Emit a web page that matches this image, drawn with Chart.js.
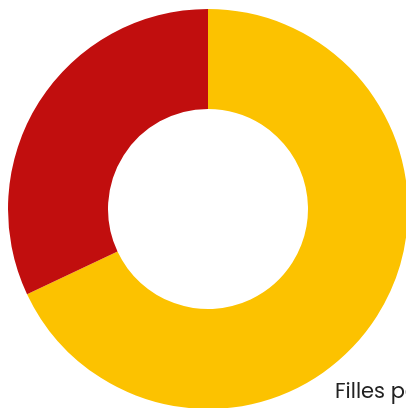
<!DOCTYPE html>
<html>
<head>
<meta charset="utf-8">
<script src="https://cdn.jsdelivr.net/npm/chart.js@4"></script>
<style>
  html, body { margin: 0; padding: 0; background: #fff; overflow: hidden; width: 406px; height: 408px; }
  #wrap { position: relative; width: 406px; height: 408px; overflow: hidden; }
  canvas { position: absolute; left: 0; top: 0; }
  #label { position: absolute; left: 335px; top: 380px; font-family: Poppins, "Open Sans", sans-serif; font-size: 21px; color: #222; white-space: nowrap; line-height: 1; }
</style>
</head>
<body>
<div id="wrap">
  <canvas id="c" width="410" height="410"></canvas>
  <div id="label">Filles parmi les élèves</div>
</div>
<script>
const categories = ["Filles", "Garçons"];
const values = [68, 32];
const colors = ["#FCC200", "#C10E0E"];

new Chart(document.getElementById('c'), {
  type: 'doughnut',
  data: {
    labels: categories,
    datasets: [{
      data: values,
      backgroundColor: colors,
      borderWidth: 0,
      hoverOffset: 0
    }]
  },
  options: {
    responsive: false,
    animation: false,
    cutout: '50%',
    layout: { padding: { left: 8, top: 9, right: 2, bottom: 1 } },
    plugins: {
      legend: { display: false },
      tooltip: { enabled: false }
    }
  }
});
</script>
</body>
</html>
